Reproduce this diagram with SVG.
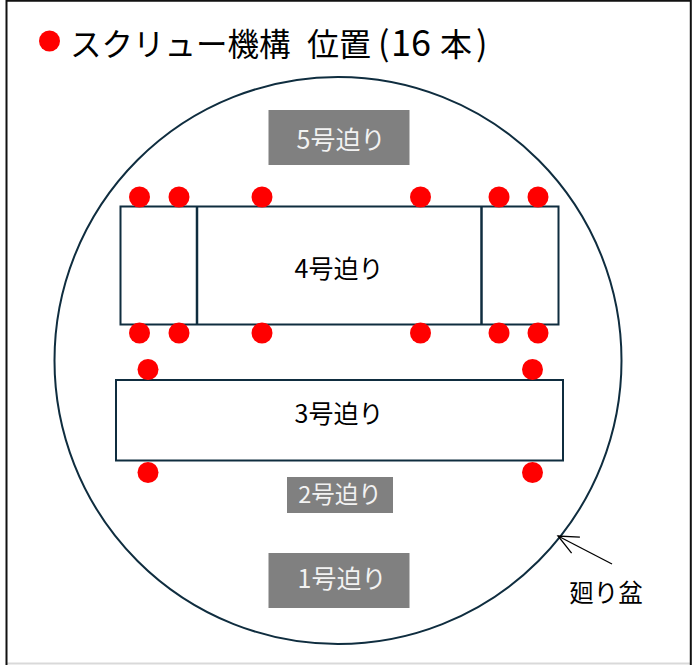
<svg xmlns="http://www.w3.org/2000/svg" width="692" height="665" viewBox="0 0 692 665">
<style>
text{font-family:"Noto Sans CJK JP","Noto Sans",sans-serif;text-anchor:middle}
.d{fill:#ff0000}
.box{fill:#fff;stroke:#0f2d3f;stroke-width:2}
.g{fill:#808080}
.w{fill:#f2f2f2;font-size:25px}
.k{fill:#000;font-size:25px}
</style>
<defs><marker id="a" markerWidth="26" markerHeight="26" refX="23" refY="13" orient="auto" markerUnits="userSpaceOnUse"><path d="M3 4L23 13L3 22" fill="none" stroke="#000" stroke-width="1.300"/></marker></defs>
<rect width="692" height="665" fill="#fff"/>
<g id="frame" fill="none" stroke-width="2"><line x1="6" y1="663.500" x2="691" y2="663.500" stroke="#d9d9d9"/><path d="M6.500 665V0.800H690.800V665" stroke="#111"/></g>
<g id="turntable"><circle cx="338" cy="360.500" r="283.500" fill="none" stroke="#0f2d3f" stroke-width="2"/></g>
<g id="title"><circle class="d" cx="49.500" cy="41" r="10.500"/><text y="56" style="font-size:32px;text-anchor:start" fill="#000"><tspan x="70" style="font-size:31.500px">スクリュー機構</tspan><tspan x="307">位置</tspan><tspan x="378" style="font-size:34px">(</tspan><tspan x="391" style="font-size:36px">16</tspan><tspan x="440">本</tspan><tspan x="476" style="font-size:34px">)</tspan></text></g>
<g id="node5"><rect class="g" x="268.500" y="110" width="141" height="55"/><text class="w" x="341" y="149">5号迫り</text></g>
<g id="node4"><rect class="box" x="120.500" y="206.500" width="438" height="118"/><line x1="197" y1="206" x2="197" y2="325" stroke="#0f2d3f" stroke-width="2.500"/><line x1="481.500" y1="206" x2="481.500" y2="325" stroke="#0f2d3f" stroke-width="2.500"/><text class="k" x="339" y="278">4号迫り</text></g>
<g id="node3"><rect class="box" x="116" y="380" width="447" height="80.500"/><text class="k" x="339" y="423">3号迫り</text></g>
<g id="node2"><rect class="g" x="287" y="477" width="106" height="36"/><text class="w" x="340" y="503" style="font-size:23.500px">2号迫り</text></g>
<g id="node1"><rect class="g" x="268.500" y="553" width="141" height="55"/><text class="w" x="342" y="588">1号迫り</text></g>
<g id="screws">
<circle class="d" cx="139.500" cy="197" r="10.500"/><circle class="d" cx="179" cy="197" r="10.500"/><circle class="d" cx="262" cy="197" r="10.500"/><circle class="d" cx="420.500" cy="197" r="10.500"/><circle class="d" cx="499" cy="197" r="10.500"/><circle class="d" cx="538" cy="197" r="10.500"/>
<circle class="d" cx="139.500" cy="333" r="10.500"/><circle class="d" cx="179" cy="333" r="10.500"/><circle class="d" cx="262" cy="333" r="10.500"/><circle class="d" cx="420.500" cy="333" r="10.500"/><circle class="d" cx="499" cy="333" r="10.500"/><circle class="d" cx="538" cy="333" r="10.500"/>
<circle class="d" cx="148" cy="369.500" r="10.500"/><circle class="d" cx="532.500" cy="369.500" r="10.500"/><circle class="d" cx="148" cy="472.500" r="10.500"/><circle class="d" cx="532.500" cy="472.500" r="10.500"/>
</g>
<g id="connectors"><line x1="612" y1="564" x2="558" y2="536" stroke="#000" stroke-width="1.300" marker-end="url(#a)"/></g>
<text id="label" x="606" y="602" style="font-size:24.500px;text-anchor:middle" fill="#000">廻り盆</text>
</svg>
